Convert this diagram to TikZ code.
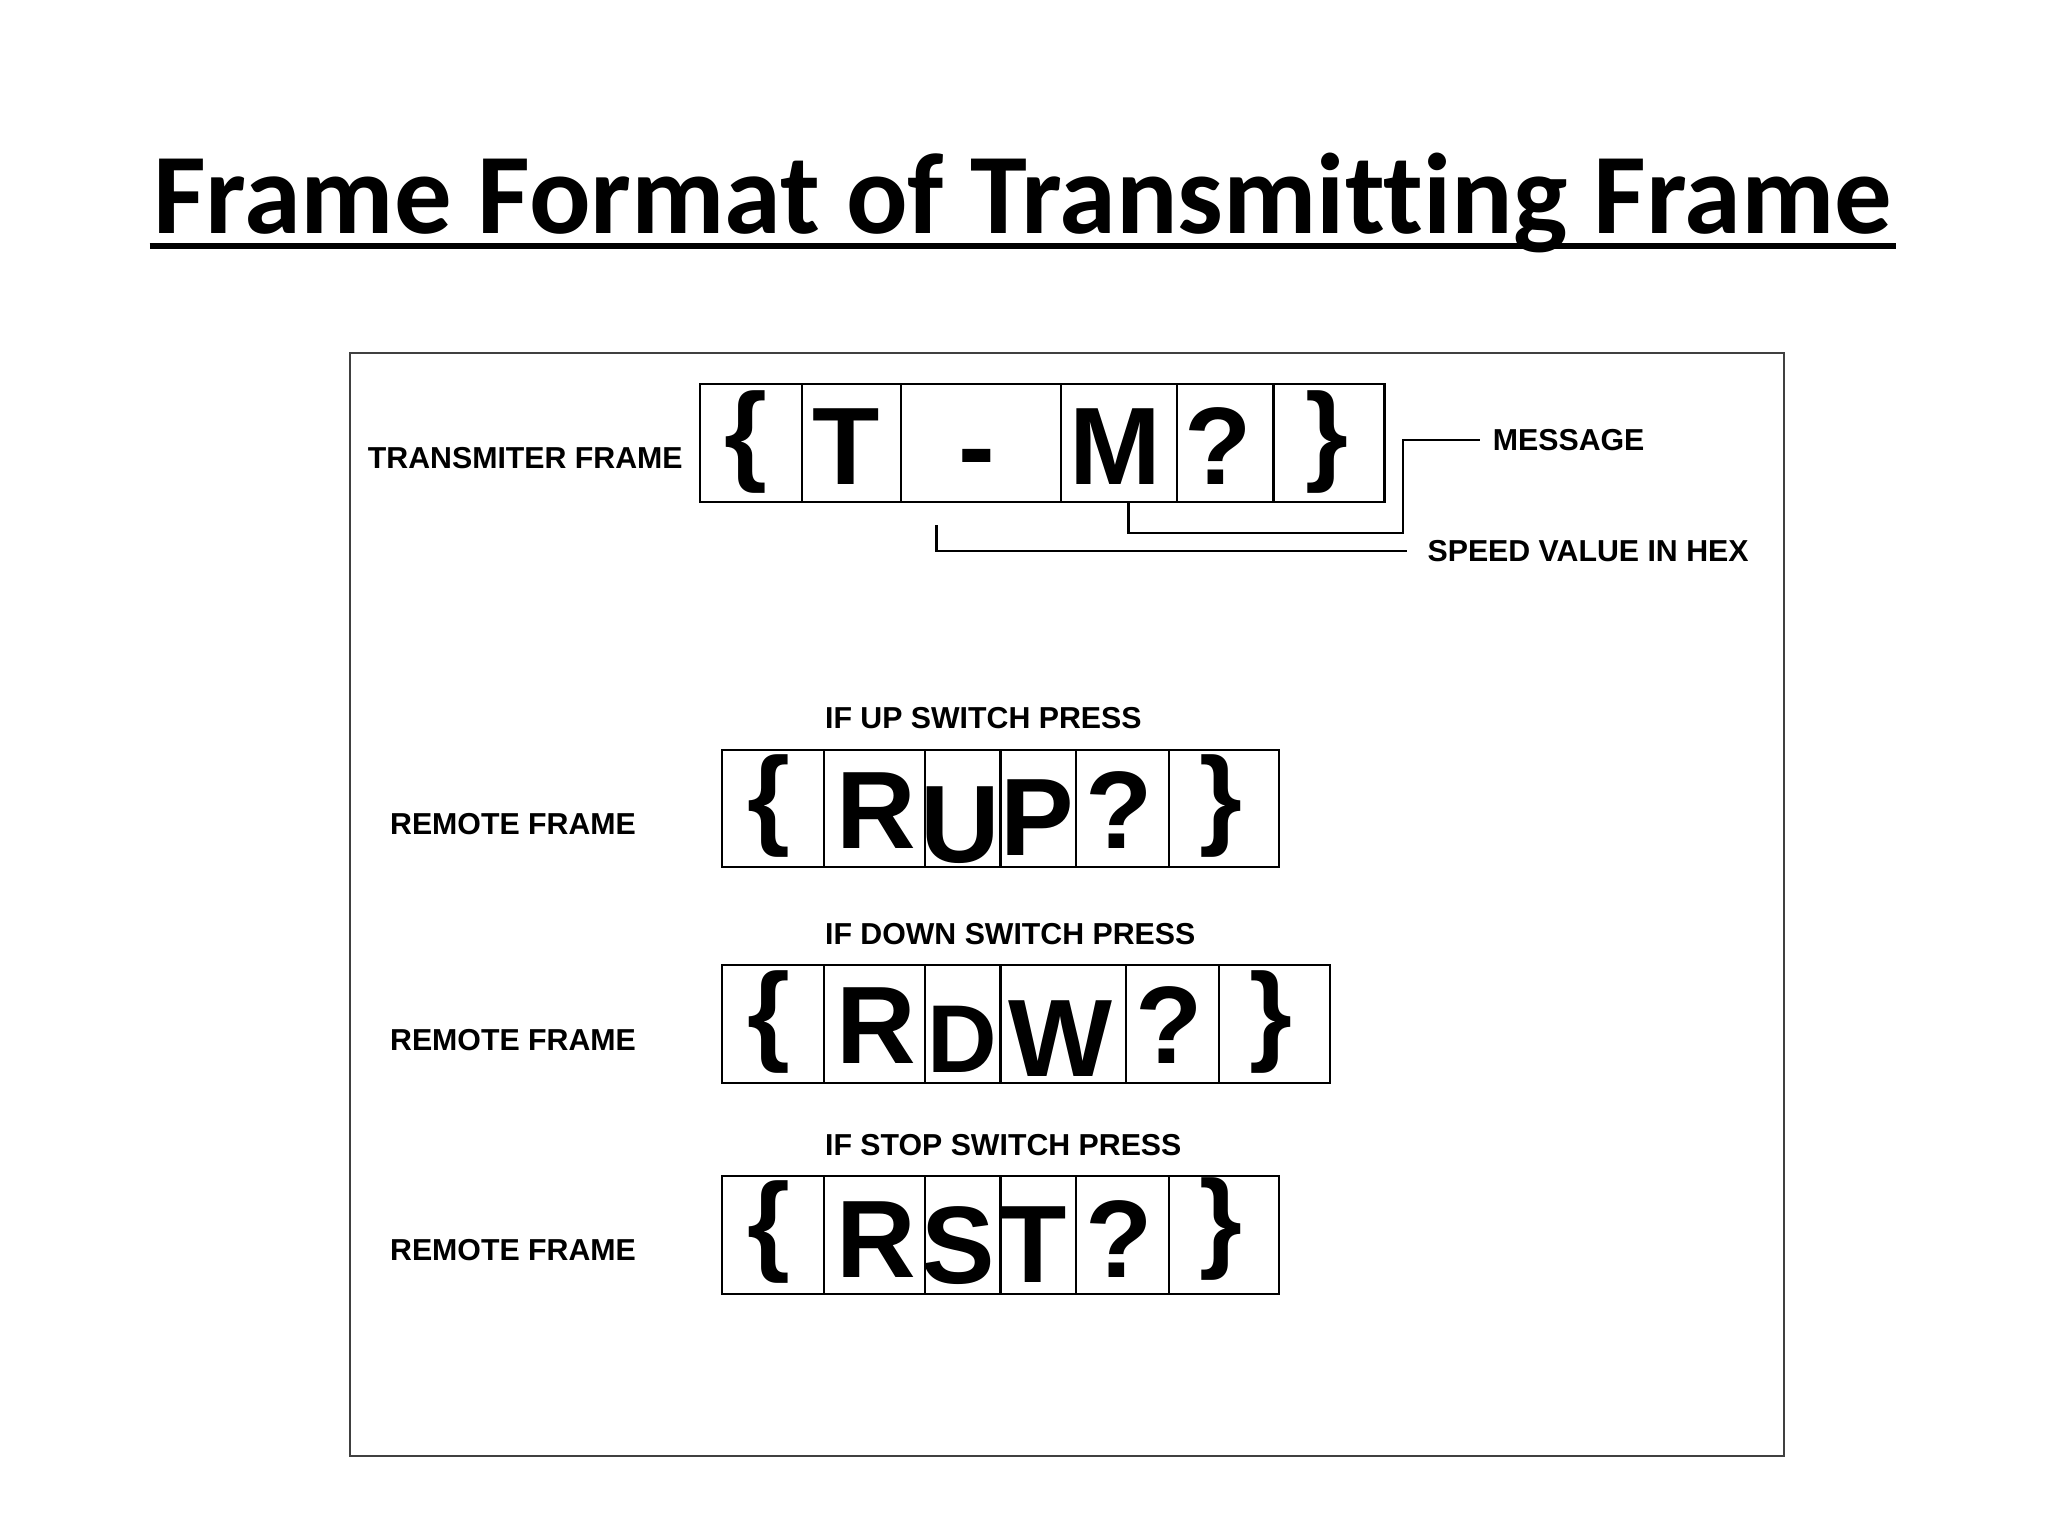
\documentclass[tikz,border=0pt]{standalone}
\usepackage{fontspec}
\setmainfont{Liberation Sans}
\newfontfamily\titlefont[Ligatures=NoCommon]{Carlito}
\tikzset{
    cell/.style={draw,line width=0.45pt,minimum height=9mm,inner sep=0pt,outer sep=0pt},
    glyph/.style={anchor=base,inner sep=0pt,font=\fontsize{24}{24}\selectfont\bfseries},
    tag/.style={anchor=base west,inner sep=0pt,font=\fontsize{6.6}{7}\selectfont\bfseries},
    wire/.style={line width=0.45pt},
}
\begin{document}
\begin{tikzpicture}[x=0.1mm,y=-0.1mm]
        \useasboundingbox (0,0) rectangle (1568,1176);
        \node [anchor=base,inner sep=0pt,font=\fontsize{25}{26}\selectfont\titlefont\bfseries] (title) at (783,179) {Frame Format of Transmitting Frame};
        \draw [line width=1.4pt] ([yshift=-0.95mm,xshift=-0.2mm]title.base west) to ([yshift=-0.95mm,xshift=0.2mm]title.base east);
        \draw [line width=0.45pt,draw=black!75] (268,270) rectangle (1366,1115);

        \node [cell,minimum width=7.8mm] (tx1) at (575,339) {};
        \node [cell,minimum width=7.6mm] (tx2) at (652,339) {};
        \node [cell,minimum width=12.2mm] (tx3) at (751,339) {};
        \node [cell,minimum width=8.9mm] (tx4) at (856.5,339) {};
        \node [cell,minimum width=7.4mm] (tx5) at (938,339) {};
        \node [cell,minimum width=8.5mm] (tx6) at (1017.5,339) {};
        \node [glyph] (txg1) at (571,360) {\{};
        \node [glyph] (txg2) at (648,371) {T};
        \node [glyph] (txg3) at (748,371) {-};
        \node [glyph] (txg4) at (854,371) {M};
        \node [glyph] (txg5) at (933,371) {?};
        \node [glyph] (txg6) at (1016,360) {\}};
        \node [tag] (txname) at (281,359) {TRANSMITER FRAME};
        \node [tag,outer sep=1mm] (msg) at (1133,345) {MESSAGE};
        \node [tag,outer sep=1.6mm] (spd) at (1077,430) {SPEED VALUE IN HEX};
        \coordinate (mbend) at (1074,408);
        \coordinate (sbend) at (717,402);
        \draw [wire] (msg.west) -| (mbend) -| ([xshift=0.75mm]tx4.south);
        \draw [wire] (sbend) |- (spd.west);

        \node [tag] (upname) at (631,558) {IF UP SWITCH PRESS};
        \node [tag] (uprem) at (298,639) {REMOTE FRAME};
        \node [cell,minimum width=7.8mm] (up1) at (592,619) {};
        \node [cell,minimum width=7.7mm] (up2) at (669.5,619) {};
        \node [cell,minimum width=5.8mm] (up3) at (737,619) {};
        \node [cell,minimum width=5.8mm] (up4) at (795,619) {};
        \node [cell,minimum width=7.1mm] (up5) at (859.5,619) {};
        \node [cell,minimum width=8.4mm] (up6) at (937,619) {};
        \node [glyph] (upg1) at (589,639) {\{};
        \node [glyph] (upg2) at (671,650) {R};
        \node [glyph] (upg3) at (735,660) {U};
        \node [glyph] (upg4) at (794,655) {P};
        \node [glyph] (upg5) at (857,650) {?};
        \node [glyph] (upg6) at (935,639) {\}};

        \node [tag] (dnname) at (631,723) {IF DOWN SWITCH PRESS};
        \node [tag] (dnrem) at (298,804) {REMOTE FRAME};
        \node [cell,minimum width=7.8mm] (dn1) at (592,784) {};
        \node [cell,minimum width=7.7mm] (dn2) at (669.5,784) {};
        \node [cell,minimum width=5.8mm] (dn3) at (737,784) {};
        \node [cell,minimum width=9.6mm] (dn4) at (814,784) {};
        \node [cell,minimum width=7.1mm] (dn5) at (897.5,784) {};
        \node [cell,minimum width=8.5mm] (dn6) at (975.5,784) {};
        \node [glyph] (dng1) at (589,804) {\{};
        \node [glyph] (dng2) at (671,814) {R};
        \node [glyph,font=\fontsize{21}{21}\selectfont\bfseries] (dng3) at (737,821) {D};
        \node [glyph] (dng4) at (812,824) {W};
        \node [glyph] (dng5) at (895,814) {?};
        \node [glyph] (dng6) at (973,804) {\}};

        \node [tag] (stname) at (631,885) {IF STOP SWITCH PRESS};
        \node [tag] (strem) at (298,965) {REMOTE FRAME};
        \node [cell,minimum width=7.8mm] (st1) at (592,945.5) {};
        \node [cell,minimum width=7.7mm] (st2) at (669.5,945.5) {};
        \node [cell,minimum width=5.8mm] (st3) at (737,945.5) {};
        \node [cell,minimum width=5.8mm] (st4) at (795,945.5) {};
        \node [cell,minimum width=7.1mm] (st5) at (859.5,945.5) {};
        \node [cell,minimum width=8.4mm] (st6) at (937,945.5) {};
        \node [glyph] (stg1) at (589,965) {\{};
        \node [glyph] (stg2) at (671,978) {R};
        \node [glyph] (stg3) at (734,983) {S};
        \node [glyph] (stg4) at (791,982) {T};
        \node [glyph] (stg5) at (857,978) {?};
        \node [glyph] (stg6) at (935,963) {\}};
    \end{tikzpicture}
\end{document}
